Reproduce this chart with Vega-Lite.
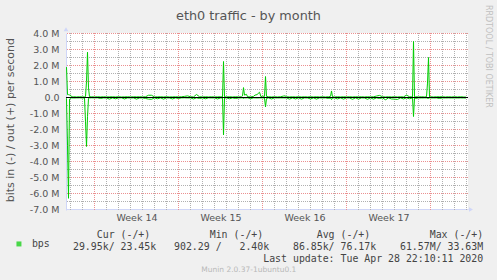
{
 "$schema": "https://vega.github.io/schema/vega-lite/v6.json",
 "width": 402,
 "height": 177,
 "autosize": {"type": "none"},
 "padding": {"left": 66, "top": 33, "right": 29, "bottom": 70},
 "background": "#f0f0f0",
 "config": {"view": {"fill": "white", "stroke": null}, "font": "DejaVu Sans"},
 "title": {"text": "eth0 traffic - by month", "fontSize": 12.8, "fontWeight": "normal", "color": "#555555", "anchor": "middle", "frame": "group", "baseline": "alphabetic", "dx": -18.5, "dy": 28, "offset": 0},
 "datasets": {
  "vgrid": [
   {"time": "2020-03-27T00:00Z", "kind": "day"},
   {"time": "2020-03-28T00:00Z", "kind": "day"},
   {"time": "2020-03-29T00:00Z", "kind": "week"},
   {"time": "2020-03-30T00:00Z", "kind": "day"},
   {"time": "2020-03-31T00:00Z", "kind": "day"},
   {"time": "2020-04-01T00:00Z", "kind": "day"},
   {"time": "2020-04-02T00:00Z", "kind": "day"},
   {"time": "2020-04-03T00:00Z", "kind": "day"},
   {"time": "2020-04-04T00:00Z", "kind": "day"},
   {"time": "2020-04-05T00:00Z", "kind": "week"},
   {"time": "2020-04-06T00:00Z", "kind": "day"},
   {"time": "2020-04-07T00:00Z", "kind": "day"},
   {"time": "2020-04-08T00:00Z", "kind": "day"},
   {"time": "2020-04-09T00:00Z", "kind": "day"},
   {"time": "2020-04-10T00:00Z", "kind": "day"},
   {"time": "2020-04-11T00:00Z", "kind": "day"},
   {"time": "2020-04-12T00:00Z", "kind": "week"},
   {"time": "2020-04-13T00:00Z", "kind": "day"},
   {"time": "2020-04-14T00:00Z", "kind": "day"},
   {"time": "2020-04-15T00:00Z", "kind": "day"},
   {"time": "2020-04-16T00:00Z", "kind": "day"},
   {"time": "2020-04-17T00:00Z", "kind": "day"},
   {"time": "2020-04-18T00:00Z", "kind": "day"},
   {"time": "2020-04-19T00:00Z", "kind": "week"},
   {"time": "2020-04-20T00:00Z", "kind": "day"},
   {"time": "2020-04-21T00:00Z", "kind": "day"},
   {"time": "2020-04-22T00:00Z", "kind": "day"},
   {"time": "2020-04-23T00:00Z", "kind": "day"},
   {"time": "2020-04-24T00:00Z", "kind": "day"},
   {"time": "2020-04-25T00:00Z", "kind": "day"},
   {"time": "2020-04-26T00:00Z", "kind": "week"},
   {"time": "2020-04-27T00:00Z", "kind": "day"},
   {"time": "2020-04-28T00:00Z", "kind": "day"},
   {"time": "2020-04-29T00:00Z", "kind": "day"}
  ],
  "hgrid": [
   {"bps": -6500000, "kind": "minor"},
   {"bps": -6000000, "kind": "major"},
   {"bps": -5500000, "kind": "minor"},
   {"bps": -5000000, "kind": "major"},
   {"bps": -4500000, "kind": "minor"},
   {"bps": -4000000, "kind": "major"},
   {"bps": -3500000, "kind": "minor"},
   {"bps": -3000000, "kind": "major"},
   {"bps": -2500000, "kind": "minor"},
   {"bps": -2000000, "kind": "major"},
   {"bps": -1500000, "kind": "minor"},
   {"bps": -1000000, "kind": "major"},
   {"bps": -500000, "kind": "minor"},
   {"bps": 500000, "kind": "minor"},
   {"bps": 1000000, "kind": "major"},
   {"bps": 1500000, "kind": "minor"},
   {"bps": 2000000, "kind": "major"},
   {"bps": 2500000, "kind": "minor"},
   {"bps": 3000000, "kind": "major"},
   {"bps": 3500000, "kind": "minor"},
   {"bps": 4000000, "kind": "major"}
  ],
  "traffic": [
   {"time": "2020-03-26T16:00Z", "in": -50000, "out": 1900000},
   {"time": "2020-03-26T18:00Z", "in": -3000000, "out": 180000},
   {"time": "2020-03-26T20:00Z", "in": -6300000, "out": 180000},
   {"time": "2020-03-26T22:00Z", "in": -100000, "out": 160000},
   {"time": "2020-03-27T00:00Z", "in": -60000, "out": 150000},
   {"time": "2020-03-27T02:00Z", "in": -25000, "out": 40000},
   {"time": "2020-03-27T06:00Z", "in": -30000, "out": 45000},
   {"time": "2020-03-27T12:00Z", "in": -25000, "out": 35000},
   {"time": "2020-03-27T18:00Z", "in": -20000, "out": 45000},
   {"time": "2020-03-28T00:00Z", "in": -30000, "out": 35000},
   {"time": "2020-03-28T04:00Z", "in": -30000, "out": 40000},
   {"time": "2020-03-28T06:00Z", "in": -1500000, "out": 60000},
   {"time": "2020-03-28T08:00Z", "in": -3060000, "out": 1000000},
   {"time": "2020-03-28T10:00Z", "in": -1200000, "out": 2830000},
   {"time": "2020-03-28T12:00Z", "in": -50000, "out": 600000},
   {"time": "2020-03-28T14:00Z", "in": -25000, "out": 45000},
   {"time": "2020-03-28T18:00Z", "in": -20000, "out": 45000},
   {"time": "2020-03-29T00:00Z", "in": -25000, "out": 35000},
   {"time": "2020-03-29T06:00Z", "in": -20000, "out": 45000},
   {"time": "2020-03-29T12:00Z", "in": -60000, "out": 35000},
   {"time": "2020-03-29T18:00Z", "in": -25000, "out": 45000},
   {"time": "2020-03-30T00:00Z", "in": -30000, "out": 35000},
   {"time": "2020-03-30T06:00Z", "in": -100000, "out": 40000},
   {"time": "2020-03-30T12:00Z", "in": -25000, "out": 45000},
   {"time": "2020-03-30T18:00Z", "in": -80000, "out": 35000},
   {"time": "2020-03-31T00:00Z", "in": -25000, "out": 45000},
   {"time": "2020-03-31T06:00Z", "in": -20000, "out": 35000},
   {"time": "2020-03-31T12:00Z", "in": -90000, "out": 40000},
   {"time": "2020-03-31T18:00Z", "in": -25000, "out": 45000},
   {"time": "2020-04-01T00:00Z", "in": -30000, "out": 35000},
   {"time": "2020-04-01T06:00Z", "in": -25000, "out": 45000},
   {"time": "2020-04-01T12:00Z", "in": -100000, "out": 40000},
   {"time": "2020-04-01T18:00Z", "in": -30000, "out": 45000},
   {"time": "2020-04-02T00:00Z", "in": -25000, "out": 35000},
   {"time": "2020-04-02T06:00Z", "in": -60000, "out": 45000},
   {"time": "2020-04-02T12:00Z", "in": -100000, "out": 140000},
   {"time": "2020-04-02T18:00Z", "in": -110000, "out": 140000},
   {"time": "2020-04-03T00:00Z", "in": -25000, "out": 35000},
   {"time": "2020-04-03T06:00Z", "in": -80000, "out": 40000},
   {"time": "2020-04-03T12:00Z", "in": -25000, "out": 45000},
   {"time": "2020-04-03T18:00Z", "in": -100000, "out": 35000},
   {"time": "2020-04-04T00:00Z", "in": -25000, "out": 45000},
   {"time": "2020-04-04T06:00Z", "in": -30000, "out": 35000},
   {"time": "2020-04-04T12:00Z", "in": -90000, "out": 40000},
   {"time": "2020-04-04T18:00Z", "in": -25000, "out": 45000},
   {"time": "2020-04-05T00:00Z", "in": -60000, "out": 35000},
   {"time": "2020-04-05T06:00Z", "in": -25000, "out": 45000},
   {"time": "2020-04-05T12:00Z", "in": -20000, "out": 70000},
   {"time": "2020-04-05T18:00Z", "in": -30000, "out": 100000},
   {"time": "2020-04-06T00:00Z", "in": -25000, "out": 45000},
   {"time": "2020-04-06T06:00Z", "in": -90000, "out": 35000},
   {"time": "2020-04-06T12:00Z", "in": -25000, "out": 190000},
   {"time": "2020-04-06T18:00Z", "in": -60000, "out": 45000},
   {"time": "2020-04-07T00:00Z", "in": -25000, "out": 35000},
   {"time": "2020-04-07T06:00Z", "in": -80000, "out": 45000},
   {"time": "2020-04-07T12:00Z", "in": -20000, "out": 35000},
   {"time": "2020-04-07T18:00Z", "in": -30000, "out": 45000},
   {"time": "2020-04-08T00:00Z", "in": -25000, "out": 35000},
   {"time": "2020-04-08T06:00Z", "in": -90000, "out": 40000},
   {"time": "2020-04-08T12:00Z", "in": -30000, "out": 45000},
   {"time": "2020-04-08T16:00Z", "in": -30000, "out": 35000},
   {"time": "2020-04-08T18:00Z", "in": -2340000, "out": 2250000},
   {"time": "2020-04-08T20:00Z", "in": -30000, "out": 45000},
   {"time": "2020-04-09T00:00Z", "in": -25000, "out": 35000},
   {"time": "2020-04-09T06:00Z", "in": -80000, "out": 45000},
   {"time": "2020-04-09T12:00Z", "in": -25000, "out": 35000},
   {"time": "2020-04-09T18:00Z", "in": -60000, "out": 45000},
   {"time": "2020-04-10T00:00Z", "in": -30000, "out": 35000},
   {"time": "2020-04-10T06:00Z", "in": -25000, "out": 45000},
   {"time": "2020-04-10T08:00Z", "in": -25000, "out": 100000},
   {"time": "2020-04-10T10:00Z", "in": -60000, "out": 620000},
   {"time": "2020-04-10T12:00Z", "in": -25000, "out": 150000},
   {"time": "2020-04-10T16:00Z", "in": -25000, "out": 200000},
   {"time": "2020-04-10T18:00Z", "in": -20000, "out": 45000},
   {"time": "2020-04-11T00:00Z", "in": -70000, "out": 35000},
   {"time": "2020-04-11T06:00Z", "in": -25000, "out": 70000},
   {"time": "2020-04-11T09:00Z", "in": -25000, "out": 150000},
   {"time": "2020-04-11T13:00Z", "in": -30000, "out": 180000},
   {"time": "2020-04-11T18:00Z", "in": -25000, "out": 330000},
   {"time": "2020-04-11T21:00Z", "in": -25000, "out": 45000},
   {"time": "2020-04-12T00:00Z", "in": -25000, "out": 80000},
   {"time": "2020-04-12T04:00Z", "in": -30000, "out": 70000},
   {"time": "2020-04-12T06:00Z", "in": -590000, "out": 1310000},
   {"time": "2020-04-12T08:00Z", "in": -60000, "out": 70000},
   {"time": "2020-04-12T12:00Z", "in": -25000, "out": 45000},
   {"time": "2020-04-12T18:00Z", "in": -90000, "out": 35000},
   {"time": "2020-04-13T00:00Z", "in": -25000, "out": 45000},
   {"time": "2020-04-13T06:00Z", "in": -30000, "out": 35000},
   {"time": "2020-04-13T12:00Z", "in": -25000, "out": 45000},
   {"time": "2020-04-13T18:00Z", "in": -25000, "out": 90000},
   {"time": "2020-04-13T21:00Z", "in": -25000, "out": 100000},
   {"time": "2020-04-14T00:00Z", "in": -25000, "out": 45000},
   {"time": "2020-04-14T06:00Z", "in": -100000, "out": 35000},
   {"time": "2020-04-14T12:00Z", "in": -25000, "out": 45000},
   {"time": "2020-04-14T18:00Z", "in": -90000, "out": 35000},
   {"time": "2020-04-15T00:00Z", "in": -25000, "out": 45000},
   {"time": "2020-04-15T06:00Z", "in": -100000, "out": 35000},
   {"time": "2020-04-15T12:00Z", "in": -25000, "out": 45000},
   {"time": "2020-04-15T18:00Z", "in": -30000, "out": 35000},
   {"time": "2020-04-16T00:00Z", "in": -90000, "out": 45000},
   {"time": "2020-04-16T06:00Z", "in": -25000, "out": 35000},
   {"time": "2020-04-16T12:00Z", "in": -100000, "out": 45000},
   {"time": "2020-04-16T18:00Z", "in": -25000, "out": 35000},
   {"time": "2020-04-17T00:00Z", "in": -30000, "out": 45000},
   {"time": "2020-04-17T06:00Z", "in": -25000, "out": 35000},
   {"time": "2020-04-17T12:00Z", "in": -60000, "out": 45000},
   {"time": "2020-04-17T16:00Z", "in": -30000, "out": 70000},
   {"time": "2020-04-17T18:00Z", "in": -130000, "out": 410000},
   {"time": "2020-04-17T20:00Z", "in": -30000, "out": 45000},
   {"time": "2020-04-18T00:00Z", "in": -25000, "out": 35000},
   {"time": "2020-04-18T06:00Z", "in": -90000, "out": 45000},
   {"time": "2020-04-18T12:00Z", "in": -25000, "out": 35000},
   {"time": "2020-04-18T18:00Z", "in": -100000, "out": 45000},
   {"time": "2020-04-19T00:00Z", "in": -25000, "out": 35000},
   {"time": "2020-04-19T06:00Z", "in": -30000, "out": 45000},
   {"time": "2020-04-19T12:00Z", "in": -110000, "out": 35000},
   {"time": "2020-04-19T18:00Z", "in": -25000, "out": 45000},
   {"time": "2020-04-20T00:00Z", "in": -100000, "out": 35000},
   {"time": "2020-04-20T06:00Z", "in": -25000, "out": 45000},
   {"time": "2020-04-20T12:00Z", "in": -30000, "out": 35000},
   {"time": "2020-04-20T18:00Z", "in": -110000, "out": 45000},
   {"time": "2020-04-21T00:00Z", "in": -25000, "out": 35000},
   {"time": "2020-04-21T06:00Z", "in": -100000, "out": 45000},
   {"time": "2020-04-21T12:00Z", "in": -25000, "out": 90000},
   {"time": "2020-04-21T18:00Z", "in": -60000, "out": 130000},
   {"time": "2020-04-22T00:00Z", "in": -25000, "out": 45000},
   {"time": "2020-04-22T06:00Z", "in": -140000, "out": 35000},
   {"time": "2020-04-22T12:00Z", "in": -25000, "out": 45000},
   {"time": "2020-04-22T18:00Z", "in": -90000, "out": 35000},
   {"time": "2020-04-23T00:00Z", "in": -100000, "out": 45000},
   {"time": "2020-04-23T06:00Z", "in": -120000, "out": 35000},
   {"time": "2020-04-23T12:00Z", "in": -25000, "out": 45000},
   {"time": "2020-04-23T18:00Z", "in": -90000, "out": 35000},
   {"time": "2020-04-24T00:00Z", "in": -25000, "out": 150000},
   {"time": "2020-04-24T06:00Z", "in": -80000, "out": 45000},
   {"time": "2020-04-24T12:00Z", "in": -25000, "out": 35000},
   {"time": "2020-04-24T14:00Z", "in": -1190000, "out": 3500000},
   {"time": "2020-04-24T16:00Z", "in": -25000, "out": 45000},
   {"time": "2020-04-24T18:00Z", "in": -60000, "out": 45000},
   {"time": "2020-04-25T00:00Z", "in": -25000, "out": 35000},
   {"time": "2020-04-25T06:00Z", "in": -30000, "out": 45000},
   {"time": "2020-04-25T12:00Z", "in": -25000, "out": 35000},
   {"time": "2020-04-25T16:00Z", "in": -25000, "out": 45000},
   {"time": "2020-04-25T18:00Z", "in": -60000, "out": 900000},
   {"time": "2020-04-25T20:00Z", "in": -60000, "out": 2500000},
   {"time": "2020-04-25T22:00Z", "in": -25000, "out": 35000},
   {"time": "2020-04-26T00:00Z", "in": -25000, "out": 45000},
   {"time": "2020-04-26T06:00Z", "in": -30000, "out": 35000},
   {"time": "2020-04-26T12:00Z", "in": -25000, "out": 45000},
   {"time": "2020-04-26T18:00Z", "in": -60000, "out": 45000},
   {"time": "2020-04-27T00:00Z", "in": -25000, "out": 45000},
   {"time": "2020-04-27T06:00Z", "in": -30000, "out": 35000},
   {"time": "2020-04-27T12:00Z", "in": -25000, "out": 45000},
   {"time": "2020-04-27T18:00Z", "in": -30000, "out": 35000},
   {"time": "2020-04-28T00:00Z", "in": -25000, "out": 45000},
   {"time": "2020-04-28T06:00Z", "in": -30000, "out": 35000},
   {"time": "2020-04-28T12:00Z", "in": -25000, "out": 45000},
   {"time": "2020-04-28T18:00Z", "in": -30000, "out": 35000},
   {"time": "2020-04-28T23:00Z", "in": -29950, "out": 23450}
  ]
 },
 "layer": [
  {
   "data": {"name": "vgrid"},
   "transform": [{"filter": "datum.kind == 'day'"}],
   "mark": {"type": "rule", "color": "#b0b0b0", "strokeWidth": 1, "strokeDash": [1, 1]},
   "encoding": {
    "x": {"field": "time", "type": "temporal",
     "scale": {"type": "utc", "domain": [{"year": 2020, "month": 3, "date": 26, "hours": 15, "utc": true}, {"year": 2020, "month": 4, "date": 29, "hours": 3, "utc": true}]},
     "axis": null}
   }
  },
  {
   "data": {"name": "hgrid"},
   "transform": [{"filter": "datum.kind == 'minor'"}],
   "mark": {"type": "rule", "color": "#b0b0b0", "strokeWidth": 1, "strokeDash": [1, 1]},
   "encoding": {
    "y": {"field": "bps", "type": "quantitative",
     "scale": {"domain": [-7031250, 4031250], "nice": false, "zero": false},
     "axis": null}
   }
  },
  {
   "data": {"name": "hgrid"},
   "transform": [{"filter": "datum.kind == 'major'"}],
   "mark": {"type": "rule", "color": "#eb9090", "strokeWidth": 1, "strokeDash": [1, 1]},
   "encoding": {
    "y": {"field": "bps", "type": "quantitative",
     "scale": {"domain": [-7031250, 4031250], "nice": false, "zero": false},
     "axis": null}
   }
  },
  {
   "data": {"name": "vgrid"},
   "transform": [{"filter": "datum.kind == 'week'"}],
   "mark": {"type": "rule", "color": "#eb9090", "strokeWidth": 1, "strokeDash": [1, 1]},
   "encoding": {
    "x": {"field": "time", "type": "temporal",
     "scale": {"type": "utc", "domain": [{"year": 2020, "month": 3, "date": 26, "hours": 15, "utc": true}, {"year": 2020, "month": 4, "date": 29, "hours": 3, "utc": true}]},
     "axis": null}
   }
  },
  {
   "data": {"values": []},
   "mark": {"type": "square"},
   "encoding": {
    "x": {"field": "time", "type": "temporal", "axis": null},
    "y": {"field": "bps", "type": "quantitative", "axis": null},
    "color": {"datum": "bps", "scale": {"range": ["#00cc00"]},
     "legend": {"orient": "none", "legendX": -52, "legendY": 206, "title": null, "symbolType": "square", "symbolSize": 25, "symbolStrokeWidth": 0, "symbolFillColor": "#00cc00", "labelFont": "DejaVu Sans Mono", "labelFontSize": 9.9, "labelColor": "#444444", "labelOffset": 8, "padding": 0}}
   }
  },
  {
   "data": {"name": "traffic"},
   "transform": [{"fold": ["in", "out"], "as": ["dir", "bps"]}],
   "mark": {"type": "line", "color": "#00cc00", "strokeWidth": 1},
   "encoding": {
    "x": {"field": "time", "type": "temporal",
     "scale": {"type": "utc", "domain": [{"year": 2020, "month": 3, "date": 26, "hours": 15, "utc": true}, {"year": 2020, "month": 4, "date": 29, "hours": 3, "utc": true}]},
     "axis": {"orient": "bottom", "offset": -1, "grid": false,
      "values": [{"year": 2020, "month": 4, "date": 1, "hours": 12, "utc": true}, {"year": 2020, "month": 4, "date": 8, "hours": 12, "utc": true}, {"year": 2020, "month": 4, "date": 15, "hours": 12, "utc": true}, {"year": 2020, "month": 4, "date": 22, "hours": 12, "utc": true}],
      "labelExpr": "'Week ' + utcFormat(datum.value, '%V')",
      "labelFontSize": 9.5, "labelColor": "#555555", "labelPadding": 3, "labelFlush": false, "labelOverlap": false, "ticks": false, "domain": true, "domainColor": "#cfd6f8",
      "title": ["Cur\u00a0(-/+)\u00a0\u00a0\u00a0\u00a0\u00a0\u00a0\u00a0\u00a0\u00a0\u00a0Min\u00a0(-/+)\u00a0\u00a0\u00a0\u00a0\u00a0\u00a0\u00a0\u00a0\u00a0Avg\u00a0(-/+)\u00a0\u00a0\u00a0\u00a0\u00a0\u00a0\u00a0\u00a0\u00a0\u00a0Max\u00a0(-/+)\u00a0", "29.95k/\u00a023.45k\u00a0\u00a0\u00a0902.29\u00a0/\u00a0\u00a0\u00a02.40k\u00a0\u00a0\u00a0\u00a086.85k/\u00a076.17k\u00a0\u00a0\u00a0\u00a061.57M/\u00a033.63M", "Last\u00a0update:\u00a0Tue\u00a0Apr\u00a028\u00a022:10:11\u00a02020"],
      "titleX": 416.7, "titleY": 20.3, "titleAlign": "right", "titleBaseline": "top", "titleFont": "DejaVu Sans Mono", "titleFontSize": 9.9, "titleFontWeight": "normal", "titleColor": "#444444", "titleLineHeight": 12}},
    "y": {"field": "bps", "type": "quantitative",
     "scale": {"domain": [-7031250, 4031250], "nice": false, "zero": false},
     "axis": {"orient": "left", "grid": false,
      "values": [-7000000, -6000000, -5000000, -4000000, -3000000, -2000000, -1000000, 0, 1000000, 2000000, 3000000, 4000000],
      "labelExpr": "datum.value == 0 ? '0.0' : (datum.value < 0 ? '-' : '') + format(abs(datum.value) / 1000000, '.1f') + ' M'",
      "labelFontSize": 9.5, "labelColor": "#555555", "labelPadding": 7, "labelFlush": false, "ticks": false, "domain": true, "domainColor": "#cfd6f8",
      "title": "bits in (-) / out (+) per second", "titleX": -55.5, "titleY": 86.7, "titleAngle": 270, "titleAlign": "center", "titleBaseline": "middle", "titleFontSize": 11, "titleFontWeight": "normal", "titleColor": "#555555"}},
    "detail": {"field": "dir"}
   }
  },
  {
   "data": {"values": [{}]},
   "mark": {"type": "rule", "color": "#000000", "strokeWidth": 1},
   "encoding": {
    "y": {"datum": 0, "type": "quantitative",
     "axis": {"orient": "right", "grid": false, "labels": false, "ticks": false, "domain": false,
      "title": "RRDTOOL / TOBI OETIKER", "titleX": 19.3, "titleY": 22.9, "titleAngle": 90, "titleAlign": "center", "titleBaseline": "middle", "titleFontSize": 8, "titleFontWeight": "normal", "titleColor": "#c0c0c0"}}
   }
  },
  {
   "data": {"values": [{}]},
   "mark": {"type": "point", "shape": "triangle-up", "filled": true, "color": "#cfd6f8", "opacity": 1, "size": 22},
   "encoding": {
    "x": {"datum": {"year": 2020, "month": 3, "date": 26, "hours": 15, "utc": true}, "type": "temporal", "axis": null},
    "y": {"datum": 4260000, "type": "quantitative", "axis": null}
   }
  },
  {
   "data": {"values": [{}]},
   "mark": {"type": "point", "shape": "triangle-right", "filled": true, "color": "#cfd6f8", "opacity": 1, "size": 22},
   "encoding": {
    "x": {"datum": {"year": 2020, "month": 4, "date": 29, "hours": 9, "utc": true}, "type": "temporal",
     "axis": {"orient": "bottom", "grid": false, "labels": false, "ticks": false, "domain": false,
      "title": "Munin 2.0.37-1ubuntu0.1", "titleX": 182.3, "titleY": 59, "titleAlign": "center", "titleBaseline": "middle", "titleFontSize": 7.5, "titleFontWeight": "normal", "titleColor": "#b8b8b8"}},
    "y": {"datum": -7000000, "type": "quantitative", "axis": null}
   }
  }
 ],
 "resolve": {"axis": {"x": "independent", "y": "independent"}}
}
